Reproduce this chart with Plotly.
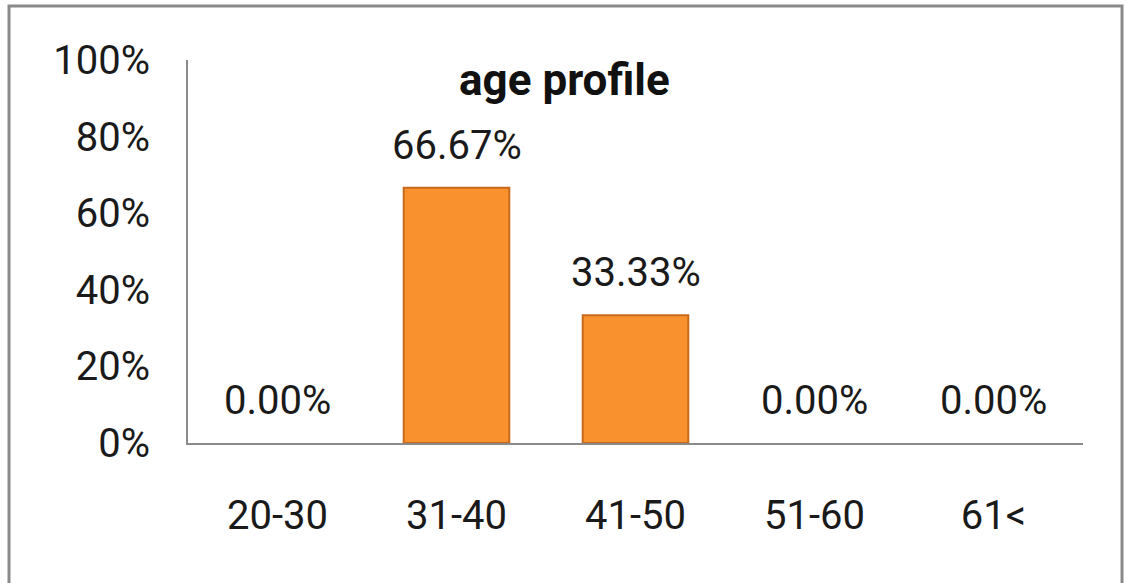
import plotly.graph_objects as go

categories = ["20-30", "31-40", "41-50", "51-60", "61<"]
values = [0.0, 0.6667, 0.3333, 0.0, 0.0]
label_texts = ["0.00%", "66.67%", "33.33%", "0.00%", "0.00%"]
y_ticks = [0, 0.2, 0.4, 0.6, 0.8, 1.0]
y_tick_labels = ["0%", "20%", "40%", "60%", "80%", "100%"]

FONT = "Roboto, Arial, sans-serif"

fig = go.Figure()
fig.add_trace(go.Bar(
    x=categories, y=values,
    marker=dict(color="#F9922E",
                line=dict(color="#C86A1C", width=[2 if v > 0 else 0 for v in values])),
    hoverinfo="skip",
))

for c, v, t in zip(categories, values, label_texts):
    fig.add_annotation(x=c, y=v, text=t, showarrow=False, yanchor="bottom",
                       yshift=17, font=dict(family=FONT, size=40, color="#1a1a1a"))

fig.add_annotation(x=0.421, y=0.948, xref="paper", yref="paper", text="<b>age profile</b>",
                   showarrow=False, xanchor="center", yanchor="middle",
                   font=dict(family=FONT, size=44, color="#111"))

# outer frame
fig.add_shape(type="rect", xref="paper", yref="paper", x0=-0.2, x1=1.0436, y0=-0.5, y1=1.141,
              line=dict(color="#8a8a8a", width=3), layer="below")

fig.update_layout(
    width=1126, height=583,
    margin=dict(l=188, r=43, t=60, b=140),
    paper_bgcolor="white", plot_bgcolor="white",
    bargap=0.41, showlegend=False,
    font=dict(family=FONT, color="#1a1a1a"),
)
fig.update_xaxes(showgrid=False, showline=True, linecolor="#8a8a8a", linewidth=2,
                 ticks="", tickfont=dict(size=40, family=FONT), ticklabelstandoff=36)
fig.update_yaxes(range=[0, 1], tickvals=y_ticks, ticktext=y_tick_labels, showgrid=False,
                 showline=True, linecolor="#8a8a8a", linewidth=2, ticks="", zeroline=False,
                 tickfont=dict(size=40, family=FONT), ticklabelstandoff=28)

fig.write_html("out.html")
